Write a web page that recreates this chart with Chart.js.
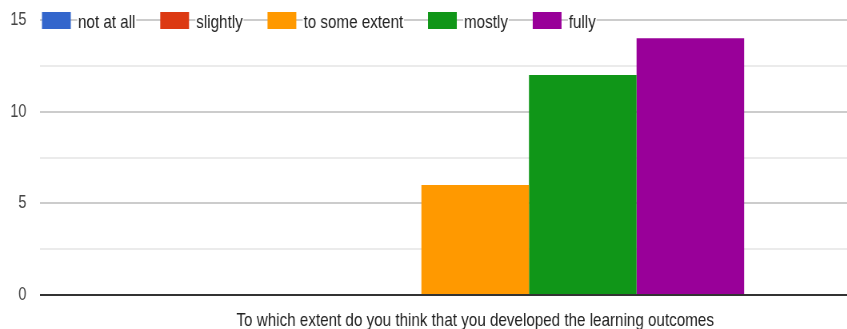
<!DOCTYPE html>
<html>
<head>
<meta charset="utf-8">
<script src="https://cdn.jsdelivr.net/npm/chart.js@4/dist/chart.umd.min.js"></script>
<style>
  html, body { margin: 0; padding: 0; background: #fff; }
  #frame { width: 847px; height: 329px; overflow: hidden; position: relative; }
  #wide { width: 1140px; height: 329px; transform: scaleX(0.8); transform-origin: 0 0; }
</style>
</head>
<body>
<div id="frame"><div id="wide"><canvas id="c" width="1140" height="329"></canvas></div></div>
<script>
// Survey question (single category) and answer counts per response option
const categories = ['To which extent do you think that you developed the learning outcomes'];
const seriesNames = ['not at all', 'slightly', 'to some extent', 'mostly', 'fully'];
const notAtAll = [0];
const slightly = [0];
const toSomeExtent = [6];
const mostly = [12];
const fully = [14];
const yTicks = [0, 5, 10, 15];

const seriesValues = [notAtAll, slightly, toSomeExtent, mostly, fully];
const palette = ['#3366cc', '#dc3912', '#ff9900', '#109618', '#990099'];
const FONT = '"Liberation Sans", Arial, sans-serif';

// Legend laid over the top gridline, white behind each label
const overlayLegend = {
  id: 'overlayLegend',
  afterDraw(chart) {
    const ctx = chart.ctx;
    ctx.save();
    ctx.font = '19px ' + FONT;
    ctx.textBaseline = 'alphabetic';
    let x = 52.5;
    const boxW = 36, boxTop = 12, boxH = 17, baseY = 28;
    chart.data.datasets.forEach(ds => {
      ctx.fillStyle = ds.backgroundColor;
      ctx.fillRect(x, boxTop, boxW, boxH);
      x += boxW + 9;
      const w = ctx.measureText(ds.label).width;
      ctx.fillStyle = '#fff';
      ctx.fillRect(x - 1, boxTop - 1, w + 2, boxH + 4);
      ctx.fillStyle = '#222';
      ctx.fillText(ds.label, x, baseY);
      x += w + 31;
    });
    ctx.restore();
  }
};

new Chart(document.getElementById('c'), {
  type: 'bar',
  data: {
    labels: categories,
    datasets: seriesNames.map((name, i) => ({
      label: name,
      data: seriesValues[i],
      backgroundColor: palette[i],
      borderWidth: 0,
      categoryPercentage: 0.618,
      barPercentage: 1.0
    }))
  },
  options: {
    responsive: false,
    animation: false,
    layout: { padding: { top: 20, right: 2, left: 0, bottom: 0 } },
    plugins: { legend: { display: false }, tooltip: { enabled: false } },
    scales: {
      x: {
        grid: { display: false },
        border: { display: false },
        ticks: { color: '#222', font: { family: FONT, size: 19 }, padding: 6, maxRotation: 0 },
        afterFit: s => { s.height = 34; s.paddingLeft = 0; s.paddingRight = 0; }
      },
      y: {
        min: 0,
        max: 15,
        border: { display: false },
        afterFit: s => { s.width = 50; s.paddingTop = 0; s.paddingBottom = 0; },
        afterBuildTicks: s => {
          // major values carry labels; half steps are unlabeled minor lines
          const vals = [];
          yTicks.forEach((v, i) => {
            vals.push(v);
            if (i < yTicks.length - 1) vals.push((v + yTicks[i + 1]) / 2);
          });
          s.ticks = vals.map(v => ({ value: v }));
        },
        ticks: {
          color: '#444',
          font: { family: FONT, size: 18 },
          padding: 17,
          callback: v => (yTicks.includes(v) ? String(v) : '')
        },
        grid: {
          drawTicks: false,
          lineWidth: 2,
          color: c => {
            const v = c.tick ? c.tick.value : null;
            if (v === 0) return '#333333';
            return yTicks.includes(v) ? '#cccccc' : '#ebebeb';
          }
        }
      }
    }
  },
  plugins: [overlayLegend]
});
</script>
</body>
</html>
